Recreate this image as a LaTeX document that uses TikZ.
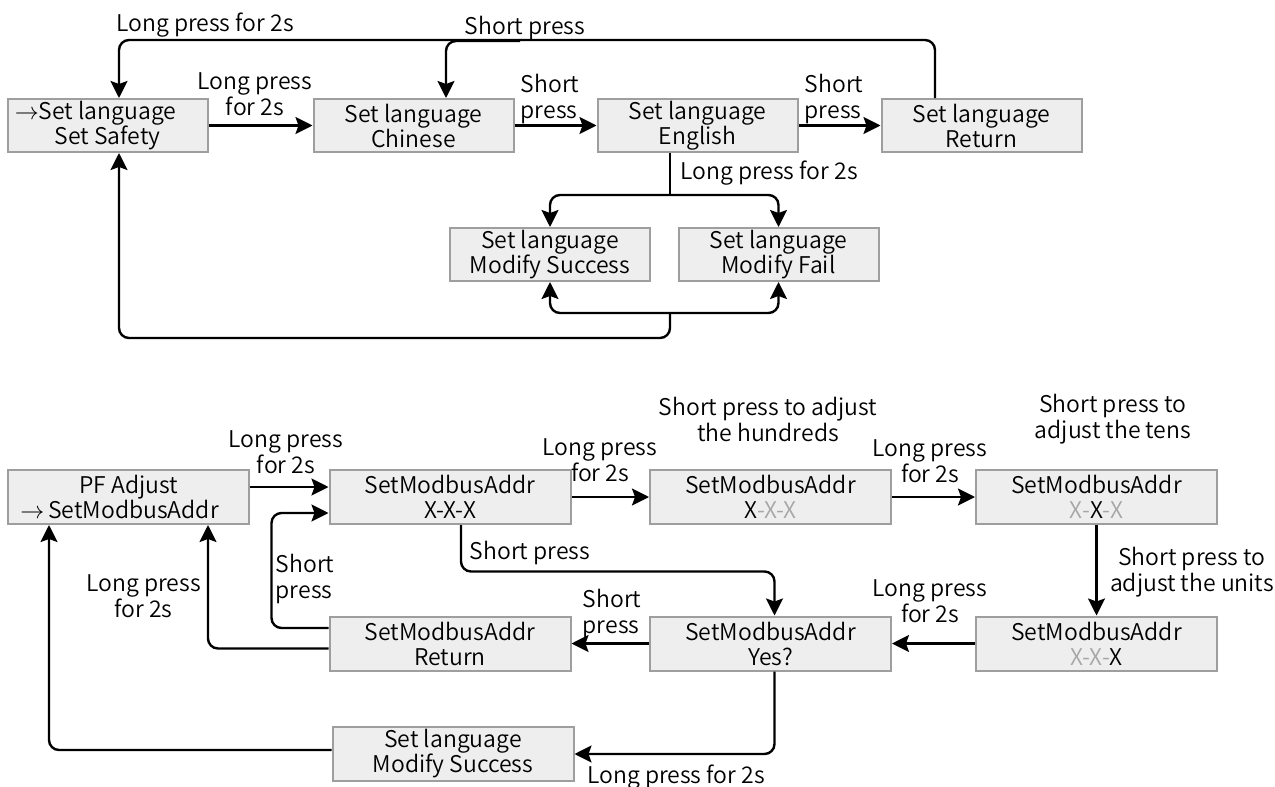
\documentclass[tikz,border=0pt]{standalone}
\usepackage{fontspec}
\setmainfont{Noto Sans CJK SC}[UprightFont=* DemiLight]
\usetikzlibrary{arrows.meta,calc}
\definecolor{boxfill}{HTML}{EEEEEE}
\definecolor{boxline}{HTML}{9E9E9E}
\definecolor{xgray}{HTML}{A6A6A6}
\begin{document}
\begin{tikzpicture}[x=0.5pt,y=-0.5pt,
  box/.style={draw=boxline, line width=1pt, fill=boxfill, minimum width=100pt, minimum height=26.5pt, inner sep=0pt, align=center, font=\fontsize{11.5}{12.5}\selectfont},
  wbox/.style={box, minimum width=120.5pt, minimum height=27pt},
  lbl/.style={align=center, font=\fontsize{11.5}{13}\selectfont, inner sep=0pt},
  conn/.style={line width=1.2pt, rounded corners=5pt},
  arr/.style={conn, -{Stealth[length=8.5pt,width=8.5pt,inset=1.5pt]}},
]
\useasboundingbox (0,0) rectangle (1275,787);
% ---------- top section ----------
\node[box] (A) at (107.5,125.5) {\llap{$\rightarrow$}Set language\\Set Safety};
\node[box] (B) at (413.5,125.5) {Set language\\Chinese};
\node[box] (C) at (697.5,125.5) {Set language\\English};
\node[box] (D) at (981.5,125.5) {Set language\\Return};
\node[box] (E) at (550,254.5) {Set language\\Modify Success};
\node[box] (F) at (778.5,254.5) {Set language\\Modify Fail};

\draw[arr] (A) -- (B);
\draw[arr] (B) -- (C);
\draw[arr] (C) -- (D);
\draw[arr] ($(D.north)+(-46.5,0)$) |- ($(A.north)+(11.5,-58)$) -- ($(A.north)+(11.5,0)$);
\coordinate (tb) at (520,41);
\draw[arr] (tb) -| ($(B.north)+(32.5,0)$);
\coordinate (cj) at (670,195);
\draw[conn] ($(C.south)+(-27.5,0)$) -- (cj);
\draw[arr] (cj) -| (E.north);
\draw[arr] (cj) -| (F.north);
\coordinate (bj) at (670,313);
\draw[arr] (bj) -| (E.south);
\draw[arr] (bj) -| (F.south);
\draw[arr] (bj) |- ($(A.south)+(11.5,185)$) -- ($(A.south)+(11.5,0)$);

\node[lbl] (l1) at (205,25) {Long press for 2s};
\node[lbl] (l2) at (525,28) {Short press};
\node[lbl] (l3) at (255,94.5) {Long press\\for 2s};
\node[lbl, align=left] (l4) at (550,99) {Short\\press};
\node[lbl, align=left] (l5) at (834,99) {Short\\press};
\node[lbl] (l6) at (769,173) {Long press for 2s};

% ---------- bottom section ----------
\node[wbox] (P) at (128.5,497) {PF Adjust\\\hspace*{5pt}\llap{$\rightarrow$\,}SetModbusAddr};
\node[wbox] (Q) at (450,497) {SetModbusAddr\\X-X-X};
\node[wbox] (S) at (770.5,497) {SetModbusAddr\\X\textcolor{xgray}{-X-X}};
\node[wbox] (T) at (1096.5,497) {SetModbusAddr\\\textcolor{xgray}{X-}X\textcolor{xgray}{-X}};
\node[wbox] (U) at (1096.5,643.5) {SetModbusAddr\\\textcolor{xgray}{X-X-}X};
\node[wbox] (V) at (770.5,643.5) {SetModbusAddr\\Yes?};
\node[wbox] (R) at (450,643.5) {SetModbusAddr\\Return};
\node[wbox] (W) at (453,754) {Set language\\Modify Success};

\draw[arr] ($(P.east)+(0,-10)$) -- ($(Q.west)+(0,-10)$);
\draw[arr] (Q) -- (S);
\draw[arr] (S) -- (T);
\draw[arr] (T) -- (U);
\draw[arr] (U) -- (V);
\draw[arr] (V) -- (R);
\draw[arr] ($(Q.south)+(11,0)$) |- ($(V.north)+(4,-44)$) -- ($(V.north)+(4,0)$);
\draw[arr] ($(R.west)+(0,-15.5)$) -| ($(Q.west)+(-57,16)$) -- ($(Q.west)+(0,16)$);
\draw[arr] ($(R.west)+(0,5)$) -| ($(P.south)+(79.5,0)$);
\draw[arr] ($(V.south)+(4,0)$) |- (W.east);
\draw[arr] ($(W.west)+(0,-4)$) -| ($(P.south)+(-79.5,0)$);

\node[lbl] (m1) at (286,452.5) {Long press\\for 2s};
\node[lbl] (m2) at (600,460) {Long press\\for 2s};
\node[lbl] (m3) at (768,419) {Short press to adjust\\the hundreds};
\node[lbl] (m4) at (930,461) {Long press\\for 2s};
\node[lbl] (m5) at (1113,419) {Short press to\\adjust the tens};
\node[lbl] (m6) at (1192,572) {Short press to\\adjust the units};
\node[lbl] (m7) at (930,601) {Long press\\for 2s};
\node[lbl] (m8) at (530,553) {Short press};
\node[lbl, align=left] (m9) at (612,614) {Short\\press};
\node[lbl, align=left] (m10) at (305,579) {Short\\press};
\node[lbl] (m11) at (143.5,596) {Long press\\for 2s};
\node[lbl] (m12) at (676,777) {Long press for 2s};
\end{tikzpicture}
\end{document}
